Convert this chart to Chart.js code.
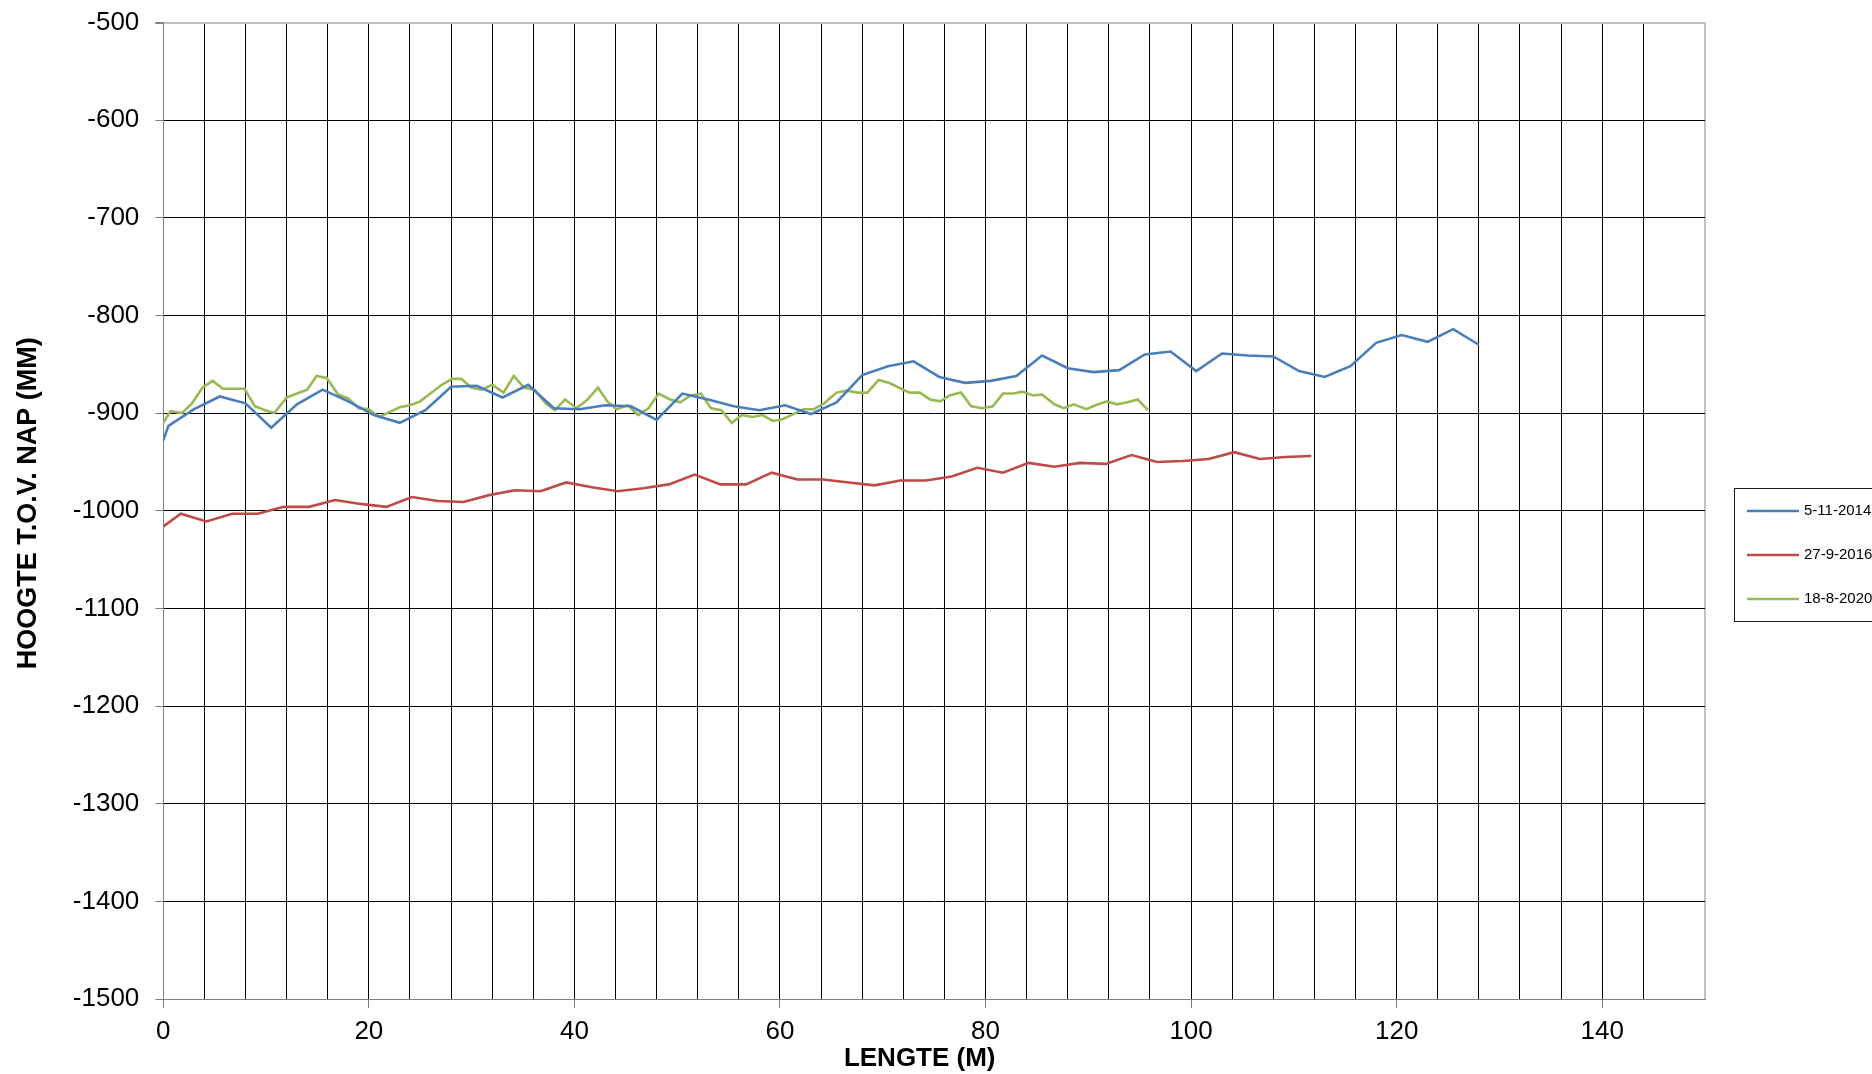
<!DOCTYPE html>
<html>
<head>
<meta charset="utf-8">
<script src="https://cdn.jsdelivr.net/npm/chart.js@4/dist/chart.umd.min.js"></script>
<style>
  body { margin: 0; background: #fff; }
  #wrap { width: 1872px; height: 1074px; position: relative; }
</style>
</head>
<body>
<div id="wrap"><canvas id="hoogteChart"></canvas></div>
<script>
// meting 5-11-2014
var lengteBlauw = [0, 0.5, 3, 5.5, 8, 10.5, 13, 15.5, 18, 20.5, 23, 25.5, 28, 30.5, 33, 35.5, 38, 40.5, 43, 45.5,
    48, 50.5, 53, 55.5, 58, 60.5, 63, 65.5, 68, 70.5, 73, 75.5, 78, 80.5, 83, 85.5, 88, 90.5, 93, 95.5,
    98, 100.5, 103, 105.5, 108, 110.5, 113, 115.5, 118, 120.5, 123, 125.5, 128];
var hoogteBlauw = [-928, -913, -896, -883, -890, -915, -891, -876, -888, -902, -910, -897, -873, -872, -884, -871, -895, -896, -892, -893,
    -907, -880, -886, -893, -897, -892, -901, -889, -861, -852, -847, -863, -869, -867, -862, -841, -854, -858, -856, -840,
    -837, -857, -839, -841, -842, -857, -863, -852, -828, -820, -827, -814, -830];

// meting 27-9-2016
var lengteRood = [0, 1.7, 4.2, 6.7, 9.2, 11.7, 14.2, 16.7, 19.2, 21.7, 24.2, 26.7, 29.2, 31.7, 34.2, 36.7, 39.2, 41.7, 44.2, 46.7,
    49.2, 51.7, 54.2, 56.7, 59.2, 61.7, 64.2, 66.7, 69.2, 71.7, 74.2, 76.7, 79.2, 81.7, 84.2, 86.7, 89.2, 91.7, 94.2, 96.7,
    99.2, 101.7, 104.2, 106.7, 109.2, 111.7];
var hoogteRood = [-1016, -1003, -1011, -1003, -1003, -996, -996, -989, -993, -996, -986, -990, -991, -984, -979, -980, -971, -976, -980, -977,
    -973, -963, -973, -973, -961, -968, -968, -971, -974, -969, -969, -965, -956, -961, -951, -955, -951, -952, -943, -950,
    -949, -947, -940, -947, -945, -944];

// meting 18-8-2020
var lengteGroen = [0, 0.7, 1.8, 2.8, 3.8, 4.8, 5.8, 6.8, 7.9, 8.9, 9.9, 10.8, 12, 13, 14, 14.9, 15.9, 17, 18, 19,
    20, 21, 22, 23, 24, 25, 26.1, 27.1, 28.1, 29, 30, 31, 32, 33.1, 34.1, 35.1, 36.1, 37.2, 38.1, 39.1,
    40.2, 41.2, 42.3, 43.2, 44.1, 45.2, 46.2, 47.2, 48.2, 49.3, 50.3, 51.3, 52.3, 53.3, 54.3, 55.3, 56.3, 57.3, 58.3, 59.3,
    60.3, 61.3, 62.3, 63.3, 64.3, 65.5, 66.5, 67.5, 68.5, 69.6, 70.6, 71.6, 72.6, 73.6, 74.6, 75.6, 76.5, 77.6, 78.6, 79.7,
    80.7, 81.7, 82.7, 83.6, 84.6, 85.5, 86.7, 87.6, 88.6, 89.8, 90.7, 91.8, 92.8, 93.8, 94.8, 95.8];
var hoogteGroen = [-910, -898, -900, -890, -874, -867, -875, -875, -875, -893, -897, -900, -884, -880, -876, -862, -864, -881, -885, -895,
    -896, -904, -899, -894, -892, -888, -879, -871, -865, -865, -874, -876, -871, -879, -862, -874, -876, -890, -897, -886,
    -895, -887, -874, -888, -896, -892, -902, -895, -880, -886, -889, -882, -880, -895, -897, -910, -902, -904, -902, -908,
    -906, -901, -896, -896, -890, -879, -877, -879, -879, -866, -869, -874, -879, -879, -886, -888, -882, -879, -893, -895,
    -893, -880, -880, -878, -882, -881, -891, -895, -891, -896, -892, -888, -891, -889, -886, -897];

var metingen = ['5-11-2014', '27-9-2016', '18-8-2020'];
var kleuren = ['#4a7ebb', '#be4b48', '#98b954'];

var lettertype = '"Liberation Sans", Arial, sans-serif';

// x en y samenvoegen tot punten
function maakPunten(lengte, hoogte) {
    var punten = [];
    for (var i = 0; i < lengte.length; i++) {
        punten.push({ x: lengte[i], y: hoogte[i] });
    }
    return punten;
}

// legenda zoals in excel, rechts naast de grafiek (loopt buiten beeld)
var legendaPlugin = {
    id: 'legenda',
    afterDraw: function (chart) {
        var ctx = chart.ctx;
        ctx.save();
        ctx.strokeStyle = '#1a1a1a';
        ctx.lineWidth = 1;
        ctx.strokeRect(1734.5, 488.5, 200, 133);
        chart.data.datasets.forEach(function (ds, i) {
            var y = 511 + i * 44;
            ctx.strokeStyle = ds.borderColor;
            ctx.lineWidth = 2.5;
            ctx.beginPath();
            ctx.moveTo(1747, y);
            ctx.lineTo(1799, y);
            ctx.stroke();
            ctx.fillStyle = '#000';
            ctx.font = '15px ' + lettertype;
            ctx.textBaseline = 'middle';
            ctx.fillText(ds.label, 1804, y);
        });
        ctx.restore();
    }
};

var ctx = document.getElementById('hoogteChart').getContext('2d');
var grafiek = new Chart(ctx, {
    type: 'line',
    data: {
        datasets: [
            { label: metingen[0], data: maakPunten(lengteBlauw, hoogteBlauw), borderColor: kleuren[0] },
            { label: metingen[1], data: maakPunten(lengteRood, hoogteRood), borderColor: kleuren[1] },
            { label: metingen[2], data: maakPunten(lengteGroen, hoogteGroen), borderColor: kleuren[2] }
        ]
    },
    options: {
        responsive: true,
        maintainAspectRatio: false,
        animation: false,
        layout: { padding: { top: 22.5, right: 167, bottom: 0, left: 0 } },
        elements: {
            line: { borderWidth: 2.6, tension: 0, fill: false },
            point: { radius: 0, hoverRadius: 0 }
        },
        plugins: {
            legend: { display: false },
            tooltip: { enabled: false }
        },
        scales: {
            x: {
                type: 'linear',
                min: 0,
                max: 150,
                afterFit: function (scale) { scale.height = 75; },
                grid: {
                    color: function (c) { return c.tick && c.tick.value === 150 ? '#c0c0c0' : '#000'; },
                    lineWidth: function (c) { return c.tick && c.tick.value === 150 ? 2 : 1; },
                    tickLength: 9,
                    tickColor: function (c) { return c.tick && c.tick.value % 20 === 0 ? '#808080' : 'rgba(0,0,0,0)'; }
                },
                border: { color: '#808080', width: 1 },
                ticks: {
                    stepSize: 4,
                    autoSkip: false,
                    maxRotation: 0,
                    padding: 8,
                    color: '#000',
                    font: { family: lettertype, size: 26 },
                    callback: function (value) { return value % 20 === 0 && value < 150 ? String(value) : ''; }
                },
                title: {
                    display: true,
                    // spaties erachter: titel staat in excel iets links van het midden
                    text: 'LENGTE (M)    ',
                    color: '#000',
                    font: { family: lettertype, size: 26, weight: 'bold', lineHeight: 1 },
                    padding: { top: 0, bottom: 2 }
                }
            },
            y: {
                min: -1500,
                max: -500,
                afterFit: function (scale) {
                    scale.width = 163.3;
                    // geen extra ruimte boven/onder voor de labels
                    scale.paddingTop = 0;
                    scale.paddingBottom = 0;
                },
                grid: {
                    color: function (c) { return c.tick && c.tick.value === -500 ? '#c0c0c0' : '#000'; },
                    lineWidth: function (c) { return c.tick && c.tick.value === -500 ? 2 : 1; },
                    tickLength: 8,
                    tickColor: '#808080'
                },
                border: { color: '#808080', width: 1 },
                ticks: {
                    stepSize: 100,
                    padding: 16,
                    color: '#000',
                    font: { family: lettertype, size: 26 },
                    callback: function (value) { return String(value); }
                },
                title: {
                    display: true,
                    text: '  HOOGTE T.O.V. NAP (MM)',
                    color: '#000',
                    font: { family: lettertype, size: 27, weight: 'bold', lineHeight: 1 },
                    padding: { top: 15, bottom: 0 }
                }
            }
        }
    },
    plugins: [legendaPlugin]
});
</script>
</body>
</html>
